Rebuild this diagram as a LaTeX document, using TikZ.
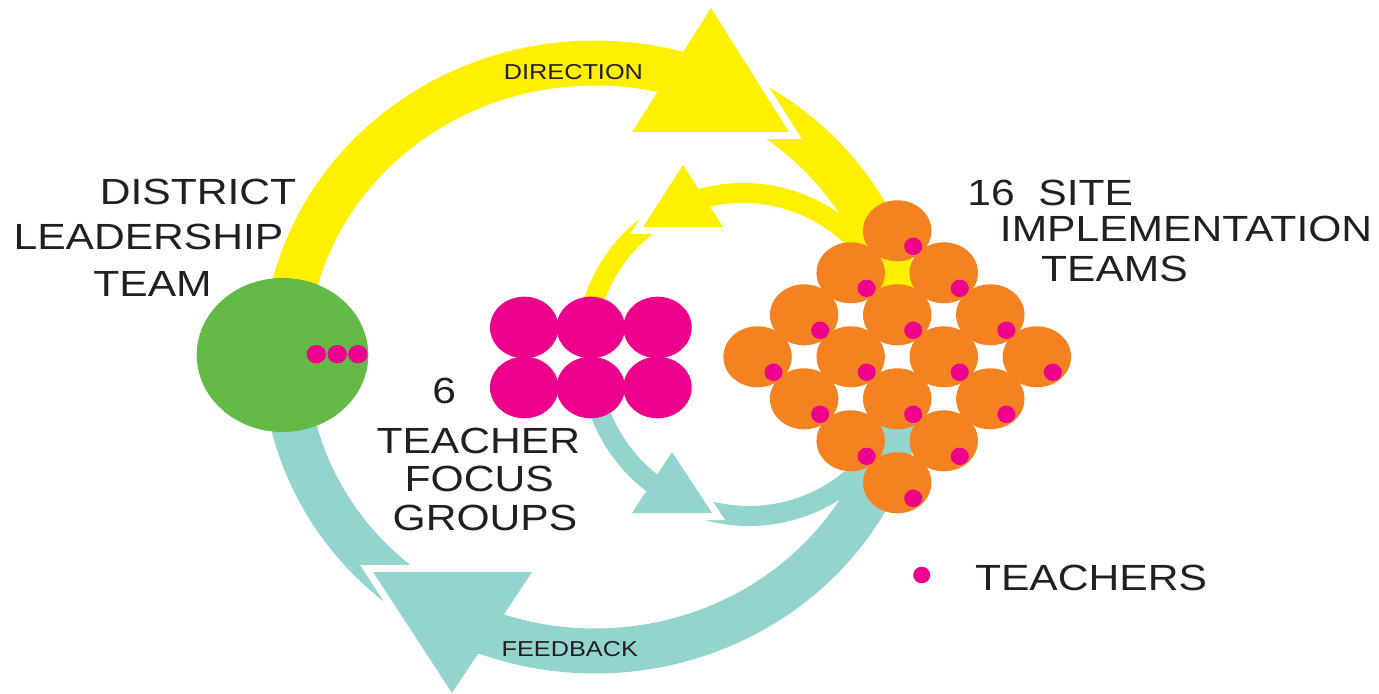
\documentclass[tikz,border=0pt]{standalone}
\usepackage{fontspec}
\newfontfamily\labelfont[FakeStretch=1.17]{Liberation Sans}
\definecolor{ringyellow}{RGB}{255,240,0}
\definecolor{ringteal}{RGB}{148,212,206}
\definecolor{leadgreen}{RGB}{99,186,70}
\definecolor{teachmag}{RGB}{236,0,140}
\definecolor{siteorange}{RGB}{245,130,32}
\definecolor{inkdark}{RGB}{35,31,32}
\begin{document}
\begin{tikzpicture}[x=0.5pt,y=0.5pt,
  bigband/.style={line width=22.5pt},
  smallband/.style={line width=10pt},
  halo/.style={draw=white, fill=white, line width=7pt, line join=miter},
  biglabel/.style={font=\labelfont\fontsize{18.2pt}{20pt}\selectfont, text=inkdark, inner sep=0pt},
  smalllabel/.style={font=\labelfont\fontsize{10.8pt}{12pt}\selectfont, text=inkdark, inner sep=0pt},
  teacherdot/.style={fill=teachmag}]

\useasboundingbox (0,0) rectangle (1379,-694);

% centres of the rings
\coordinate (oc) at (595,-357);   % outer loop (direction / feedback)
\coordinate (iy) at (743,-350);   % inner yellow loop
\coordinate (it) at (749,-357);   % inner teal loop

% ---------- outer yellow arrow: DIRECTION ----------
\draw[ringyellow, bigband] (oc) ++(70:310 and 294)
  arc[start angle=70, end angle=6, x radius=310, y radius=294];
\path[halo] (711,-8) -- (632,-132) -- (789,-132) -- cycle;
\draw[ringyellow, bigband] (oc) ++(178:310 and 294)
  arc[start angle=178, end angle=66, x radius=310, y radius=294];
\fill[ringyellow] (711,-8) -- (632,-132) -- (789,-132) -- cycle;

% ---------- inner yellow arrow ----------
\draw[ringyellow, smallband] (iy) ++(165:157)
  arc[start angle=165, end angle=110, radius=157];
\path[halo] (683,-165) -- (643,-227) -- (723,-227) -- cycle;
\draw[ringyellow, smallband] (iy) ++(114:157)
  arc[start angle=114, end angle=35, radius=157];
\fill[ringyellow] (683,-165) -- (643,-227) -- (723,-227) -- cycle;

% ---------- outer teal arrow: FEEDBACK ----------
\draw[ringteal, bigband] (oc) ++(180:310 and 294)
  arc[start angle=180, end angle=244, x radius=310, y radius=294];
\path[halo] (373,-572) -- (532,-572) -- (452,-693) -- cycle;
\draw[ringteal, bigband] (oc) ++(247:310 and 294)
  arc[start angle=247, end angle=353.5, x radius=310, y radius=294];
\fill[ringteal] (373,-572) -- (532,-572) -- (452,-693) -- cycle;

% ---------- inner teal arrow ----------
\draw[ringteal, smallband] (it) ++(238:159)
  arc[start angle=238, end angle=320, radius=159];
\path[halo] (672,-452) -- (632,-513) -- (712,-513) -- cycle;
\draw[ringteal, smallband] (it) ++(195:159)
  arc[start angle=195, end angle=242, radius=159];
\fill[ringteal] (672,-452) -- (632,-513) -- (712,-513) -- cycle;

% ---------- district leadership team ----------
\fill[leadgreen] (282.5,-355) ellipse[x radius=85.8, y radius=77];
\foreach \x in {316.3,337.2,357.8}
  \fill[teacherdot] (\x,-354.2) ellipse[x radius=9.7, y radius=9.2];

% ---------- teacher focus groups ----------
\foreach \x in {524.2,590.7,657.5}
  \foreach \y in {327.5,387.5}
    \fill[teachmag] (\x,-\y) ellipse[x radius=34.2, y radius=30.8];

% ---------- site implementation teams ----------
\foreach \i in {0,...,3}
  \foreach \j in {0,...,3}
    \fill[siteorange] ({897.2+(\i-\j)*46.55},{-230.8-(\i+\j)*42})
      ellipse[x radius=34.2, y radius=30.5];
\foreach \i in {0,...,3}
  \foreach \j in {0,...,3}
    \fill[teacherdot] ({913.2+(\i-\j)*46.55},{-246.3-(\i+\j)*42})
      ellipse[x radius=9, y radius=8.7];

% ---------- legend ----------
\fill[teacherdot] (921.7,-575) ellipse[x radius=8.5, y radius=8.3];

% ---------- labels ----------
\node[biglabel, anchor=base] (district) at (198,-204.3) {DISTRICT};
\node[biglabel, anchor=base] (leadership) at (148.5,-249.3) {LEADERSHIP};
\node[biglabel, anchor=base] (team) at (152.5,-296.7) {TEAM};

\node[biglabel, anchor=base west] (sites) at (967,-205.7) {16~~SITE};
\node[biglabel, anchor=base west] (implementation) at (999.5,-241.7) {IMPLEMENTATION};
\node[biglabel, anchor=base west] (teams) at (1040.7,-281.7) {TEAMS};

\node[biglabel, anchor=base] (six) at (444.2,-403.3) {6};
\node[biglabel, anchor=base] (teacher) at (478.3,-453.3) {TEACHER};
\node[biglabel, anchor=base] (focus) at (479.2,-491.7) {FOCUS};
\node[biglabel, anchor=base] (groups) at (485,-530.7) {GROUPS};

\node[smalllabel, anchor=base] (direction) at (573.4,-80) {DIRECTION};
\node[smalllabel, anchor=base] (feedback) at (569.8,-656.5) {FEEDBACK};

\node[biglabel, anchor=base] (teachers) at (1091,-590) {TEACHERS};
\end{tikzpicture}
\end{document}
